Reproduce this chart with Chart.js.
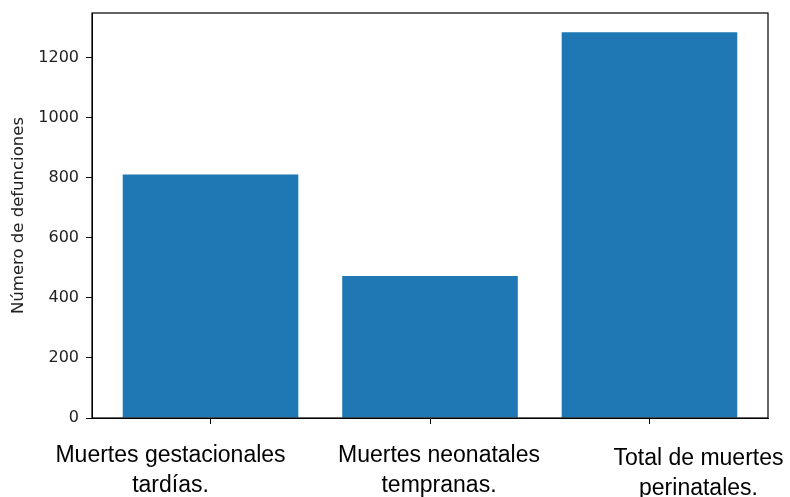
<!DOCTYPE html>
<html>
<head>
<meta charset="utf-8">
<script src="https://cdn.jsdelivr.net/npm/chart.js@4"></script>
<style>
  html, body { margin: 0; padding: 0; background: #fff; }
  #wrap { width: 790px; height: 497px; }
</style>
</head>
<body>
<div id="wrap"><canvas id="c" width="790" height="497"></canvas></div>
<script>
// ---- data ----
const categories = [
  ['Muertes gestacionales', 'tardías.'],
  ['Muertes neonatales', 'tempranas.'],
  ['Total de muertes', 'perinatales.']
];
const values = [811, 473, 1285];
const yTicks = [0, 200, 400, 600, 800, 1000, 1200];
const yTitle = 'Número de defunciones';

// ---- styling (not data) ----
const barColor = '#1f77b4';
const labelShiftX = [-40, 9, 49];
const labelShiftY = [0, 0, 3];

const frame = {
  id: 'frame',
  afterDraw(chart) {
    const a = chart.chartArea, ctx = chart.ctx;
    ctx.save();
    ctx.strokeStyle = '#000';
    ctx.lineWidth = 1.2;
    ctx.strokeRect(a.left, a.top, a.right - a.left, a.bottom - a.top);
    ctx.restore();
  }
};

const xLabels = {
  id: 'xLabels',
  afterDraw(chart) {
    const sx = chart.scales.x, ctx = chart.ctx, a = chart.chartArea;
    ctx.save();
    ctx.font = '23px "Liberation Sans", Arial, sans-serif';
    ctx.fillStyle = '#000';
    ctx.textAlign = 'center';
    ctx.textBaseline = 'alphabetic';
    categories.forEach((lines, i) => {
      const x = sx.getPixelForValue(i) + labelShiftX[i];
      lines.forEach((t, j) => {
        ctx.fillText(t, x, a.bottom + 44 + labelShiftY[i] + j * 30);
      });
    });
    ctx.restore();
  }
};

new Chart(document.getElementById('c'), {
  type: 'bar',
  data: {
    datasets: [{
      data: values.map((v, i) => ({ x: i, y: v })),
      backgroundColor: barColor,
      borderWidth: 0,
      barPercentage: 0.8,
      categoryPercentage: 1.0
    }]
  },
  options: {
    responsive: false,
    animation: false,
    layout: { padding: { left: 0, right: 22, top: 13, bottom: 0 } },
    plugins: { legend: { display: false }, tooltip: { enabled: false } },
    scales: {
      x: {
        type: 'linear',
        offset: false,
        min: -0.54,
        max: values.length - 1 + 0.54,
        afterBuildTicks(scale) { scale.ticks = categories.map((c, i) => ({ value: i })); },
        afterFit(scale) { scale.height = 79; scale.paddingLeft = 0; scale.paddingRight = 0; },
        ticks: { display: false },
        grid: { display: true, offset: false, drawOnChartArea: false, drawTicks: true, tickLength: 6, tickColor: '#000', tickWidth: 1 },
        border: { display: true, color: '#000', width: 1 }
      },
      y: {
        min: 0,
        max: Math.max(...values) * 1.05,
        afterBuildTicks(scale) { scale.ticks = yTicks.map(v => ({ value: v })); },
        afterFit(scale) { scale.width = 92; scale.paddingTop = 0; scale.paddingBottom = 0; },
        ticks: {
          padding: 7,
          color: '#222',
          font: { family: '"DejaVu Sans"', size: 16 },
          callback: v => String(v)
        },
        grid: { display: true, drawOnChartArea: false, drawTicks: true, tickLength: 6, tickColor: '#000', tickWidth: 1 },
        border: { display: true, color: '#000', width: 1 },
        title: {
          display: true,
          text: yTitle,
          color: '#222',
          font: { family: '"DejaVu Sans"', size: 16.5 },
          padding: { top: 9, bottom: 0 }
        }
      }
    }
  },
  plugins: [frame, xLabels]
});
</script>
</body>
</html>
